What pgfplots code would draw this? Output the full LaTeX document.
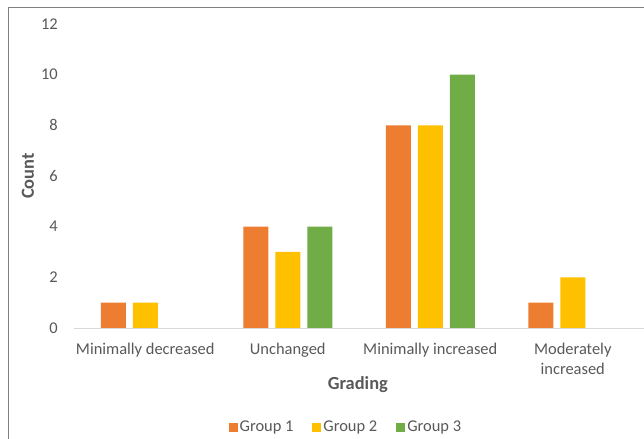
\documentclass[border=0pt]{standalone}
\usepackage{fontspec}
\setmainfont{Carlito}
\usepackage{pgfplots}
\pgfplotsset{compat=1.18}
\definecolor{gOne}{HTML}{ED7D31}
\definecolor{gTwo}{HTML}{FFC000}
\definecolor{gThree}{HTML}{70AD47}
\definecolor{axgray}{HTML}{D9D9D9}
\definecolor{txtgray}{HTML}{595959}
\definecolor{framegray}{HTML}{808080}
\begin{document}
\begin{tikzpicture}
\path[use as bounding box] (0bp,0bp) rectangle (644bp,439bp);
\fill[white] (0bp,0bp) rectangle (644bp,439bp);
% chart frame (left and top edges)
\draw[line width=1.8bp, color=framegray] (8.5bp,0bp) -- (8.5bp,431.5bp) -- (644bp,431.5bp);
\begin{axis}[
  at={(74bp,111bp)}, anchor=south west,
  scale only axis, width=570bp, height=304bp,
  xmin=-0.5, xmax=3.5, ymin=0, ymax=12,
  ytick={0,2,...,12},
  xtick={0,1,2,3},
  xticklabels={Minimally decreased, Unchanged, Minimally increased, {Moderately\\increased}},
  /pgf/number format/assume math mode=true,
  axis x line*=bottom, axis y line*=left,
  x axis line style={draw=axgray, line width=1bp, -},
  y axis line style={draw=none},
  major tick length=0pt,
  tick style={draw=none},
  xticklabel style={align=center, inner sep=0pt, yshift=-15bp,
    font=\fontsize{16.5}{20}\selectfont, text=txtgray},
  yticklabel style={inner sep=0pt, xshift=-16bp,
    font=\fontsize{16.5}{20}\selectfont, text=txtgray},
  xlabel={\bfseries Grading},
  ylabel={\bfseries Count},
  every axis x label/.style={at={(axis description cs:0.498,-0.1875)}, anchor=center,
    font=\fontsize{18.5}{22}\selectfont, text=txtgray},
  every axis y label/.style={at={(axis description cs:-0.0807,0.5)}, anchor=center, rotate=90,
    font=\fontsize{18.5}{22}\selectfont, text=txtgray},
  ybar=7bp, bar width=25bp,
  legend columns=3,
  legend style={at={(axis description cs:0.477,-0.326)}, anchor=center, draw=none,
    font=\fontsize{16.5}{20}\selectfont, text=txtgray,
    /tikz/every even column/.append style={column sep=17bp},
    nodes={inner sep=2bp}},
  legend image code/.code={\fill[#1] (0bp,-4.5bp) rectangle (9bp,4.5bp);},
]
\addplot[fill=gOne, draw=none] coordinates {(0,1) (1,4) (2,8) (3,1)};
\addplot[fill=gTwo, draw=none] coordinates {(0,1) (1,3) (2,8) (3,2)};
\addplot[fill=gThree, draw=none] coordinates {(1,4) (2,10)};
\legend{Group 1, Group 2, Group 3}
\end{axis}
\end{tikzpicture}
\end{document}
